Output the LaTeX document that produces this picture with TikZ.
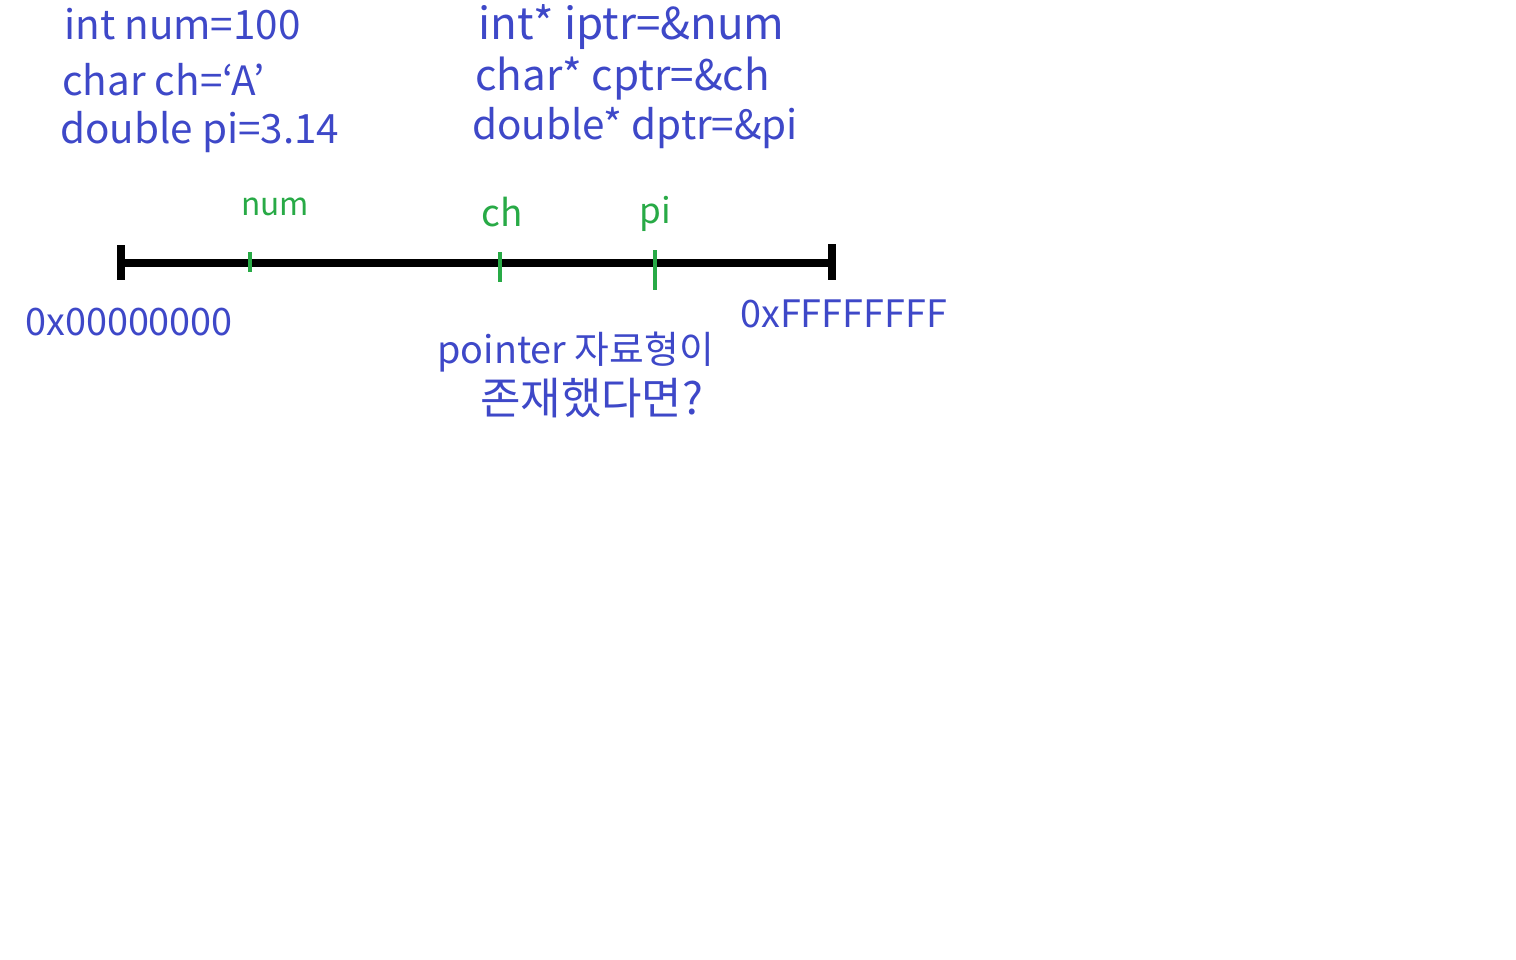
\documentclass[tikz,border=0pt]{standalone}
\usepackage{fontspec}
\setmainfont{Noto Sans CJK KR}
\usetikzlibrary{positioning}
\definecolor{penblue}{RGB}{62,72,200}
\definecolor{pengreen}{RGB}{40,170,70}

\begin{document}
\begin{tikzpicture}[x=0.02cm, y=-0.02cm,
    code/.style={anchor=west, text=penblue, font=\fontsize{23}{26}\selectfont, inner sep=0pt},
    addr/.style={text=penblue, font=\fontsize{21.5}{24}\selectfont, inner sep=0pt},
    varlabel/.style={text=pengreen, font=\fontsize{18}{20}\selectfont, inner sep=0pt},
    memline/.style={line width=4pt, black},
    vartick/.style={pengreen, line width=2pt}]
        \useasboundingbox (0,0) rectangle (1516,960);
        % declarations
        \node[code] (num) at (64,24) {int num=100};
        \node[code] (ch) at (62,80) {char ch=`A'};
        \node[code] (pi) at (60,132) {double pi=3.14};
        \node[code, font=\fontsize{25}{28}\selectfont] (iptr) at (478,27) {int* iptr=\&num};
        \node[code, font=\fontsize{24}{28}\selectfont] (cptr) at (475,79) {char* cptr=\&ch};
        \node[code] (dptr) at (472,128) {double* dptr=\&pi};
        % memory line
        \coordinate (lo) at (121,263);
        \coordinate (hi) at (832,263);
        \draw[memline] (lo) -- (hi);
        \draw[memline] ([yshift=0.36cm]lo) -- ([yshift=-0.34cm]lo);
        \draw[memline] ([yshift=0.38cm]hi) -- ([yshift=-0.34cm]hi);
        \coordinate (tnum) at (250,262);
        \coordinate (tch) at (500,267);
        \coordinate (tpi) at (655,270);
        \draw[vartick] ([yshift=0.2cm]tnum) -- ([yshift=-0.2cm]tnum);
        \draw[vartick] ([yshift=0.3cm]tch) -- ([yshift=-0.3cm]tch);
        \draw[vartick] ([yshift=0.4cm]tpi) -- ([yshift=-0.4cm]tpi);
        \node[varlabel] (lnum) at (275,207) {num};
        \node[varlabel, font=\fontsize{21}{24}\selectfont] (lch) at (502,212) {ch};
        \node[varlabel, font=\fontsize{20}{24}\selectfont] (lpi) at (655,214) {pi};
        \node[addr, anchor=west] (low) at (25,322) {0x00000000};
        \node[addr, anchor=west] (high) at (740,314) {0xFFFFFFFF};
        % question
        \node[code, font=\fontsize{21.5}{24}\selectfont] (q1) at (437,352) {pointer 자료형이};
        \node[code, font=\fontsize{25}{28}\selectfont] (q2) at (480,398) {존재했다면?};
\end{tikzpicture}
\end{document}
